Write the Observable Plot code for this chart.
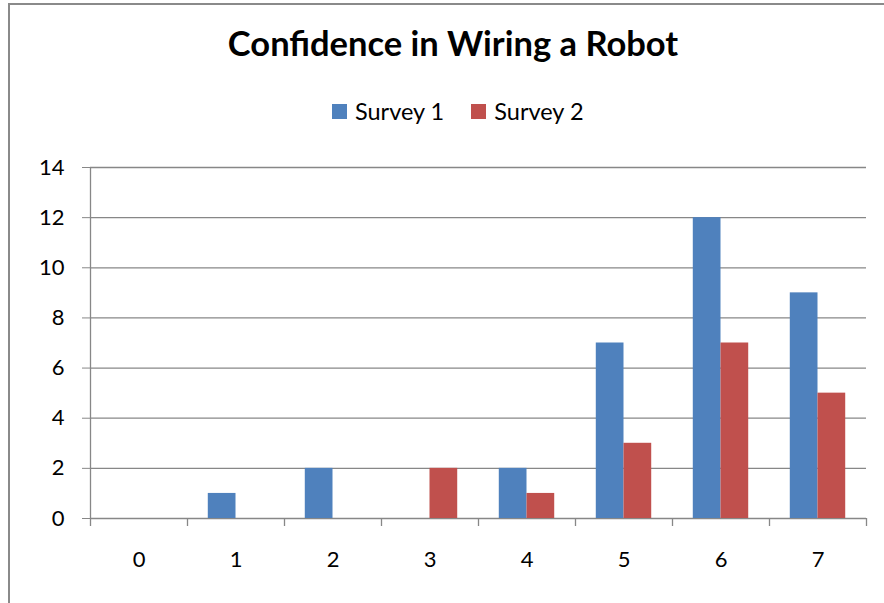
<!DOCTYPE html>
<html>
<head>
<meta charset="utf-8">
<script src="https://cdn.jsdelivr.net/npm/d3@7"></script>
<script src="https://cdn.jsdelivr.net/npm/@observablehq/plot@0.6"></script>
<style>
  html, body { margin: 0; padding: 0; background: #fff; }
  #wrap { position: relative; width: 884px; height: 603px; overflow: hidden; font-family: Lato, "Open Sans", sans-serif; }
  #frame { position: absolute; left: 8px; top: 3px; width: 1000px; height: 1000px; border-left: 2px solid #8a8a8a; border-top: 2px solid #8a8a8a; box-sizing: border-box; }
  #title { position: absolute; left: 453px; top: 26px; transform: translateX(-50%); font-size: 34.5px; font-weight: 700; line-height: 1; white-space: nowrap; color: #000; }
  #legend { position: absolute; left: 332px; top: 100px; display: flex; align-items: center; font-size: 23.5px; line-height: 1; white-space: nowrap; color: #000; }
  .sw { width: 15px; height: 15px; display: inline-block; margin-right: 8px; }
  .item { display: flex; align-items: center; margin-right: 27px; }
  #chart { position: absolute; left: 0; top: 0; }
</style>
</head>
<body>
<div id="wrap">
  <div id="chart"></div>
  <div id="frame"></div>
  <div id="title"></div>
  <div id="legend"></div>
</div>
<script>
const titleText = "Confidence in Wiring a Robot";
const categories = [0, 1, 2, 3, 4, 5, 6, 7];
const seriesNames = ["Survey 1", "Survey 2"];
const seriesColors = ["#4F81BD", "#C0504D"];
const survey1 = [0, 1, 2, 0, 2, 7, 12, 9];
const survey2 = [0, 0, 0, 2, 1, 3, 7, 5];
const yTicks = [0, 2, 4, 6, 8, 10, 12, 14];

const gray = "#878787";
const barW = 1 / 3.5; // Excel gap width 150%

const rows1 = categories.map((c, i) => ({cat: c, value: survey1[i]})).filter(d => d.value > 0);
const rows2 = categories.map((c, i) => ({cat: c, value: survey2[i]})).filter(d => d.value > 0);
const boundaries = [...categories.map(c => c - 0.5), categories[categories.length - 1] + 0.5];

document.getElementById("title").textContent = titleText;
const legend = document.getElementById("legend");
seriesNames.forEach((name, i) => {
  const item = document.createElement("div");
  item.className = "item";
  const sw = document.createElement("span");
  sw.className = "sw";
  sw.style.background = seriesColors[i];
  const label = document.createElement("span");
  label.textContent = name;
  item.appendChild(sw);
  item.appendChild(label);
  legend.appendChild(item);
});

const chart = Plot.plot({
  width: 884,
  height: 603,
  marginLeft: 90,
  marginRight: 18,
  marginTop: 167,
  marginBottom: 85,
  style: {fontFamily: "Lato, 'Open Sans', sans-serif", background: "transparent", color: "#000"},
  x: {type: "linear", domain: [boundaries[0], boundaries[boundaries.length - 1]]},
  y: {domain: [0, 14]},
  marks: [
    Plot.ruleY(yTicks, {stroke: gray, strokeWidth: 1.3}),
    Plot.ruleX([boundaries[0]], {stroke: gray, strokeWidth: 1.3}),
    Plot.ruleX(boundaries, {x: d => d, y1: 0, y2: 0, insetBottom: -8, stroke: gray, strokeWidth: 1.3}),
    Plot.rectY(rows1, {x1: d => d.cat - barW, x2: d => d.cat, y: "value", fill: seriesColors[0]}),
    Plot.rectY(rows2, {x1: d => d.cat, x2: d => d.cat + barW, y: "value", fill: seriesColors[1]}),
    Plot.axisY({ticks: yTicks, tickSize: 8, tickPadding: 18, stroke: gray, fill: "#000", fontSize: 22, label: null, tickFormat: d => String(d)}),
    Plot.axisX({ticks: categories, tickSize: 0, tickPadding: 33, fill: "#000", fontSize: 22, label: null, tickFormat: d => String(d)})
  ]
});
document.getElementById("chart").appendChild(chart);
</script>
</body>
</html>
